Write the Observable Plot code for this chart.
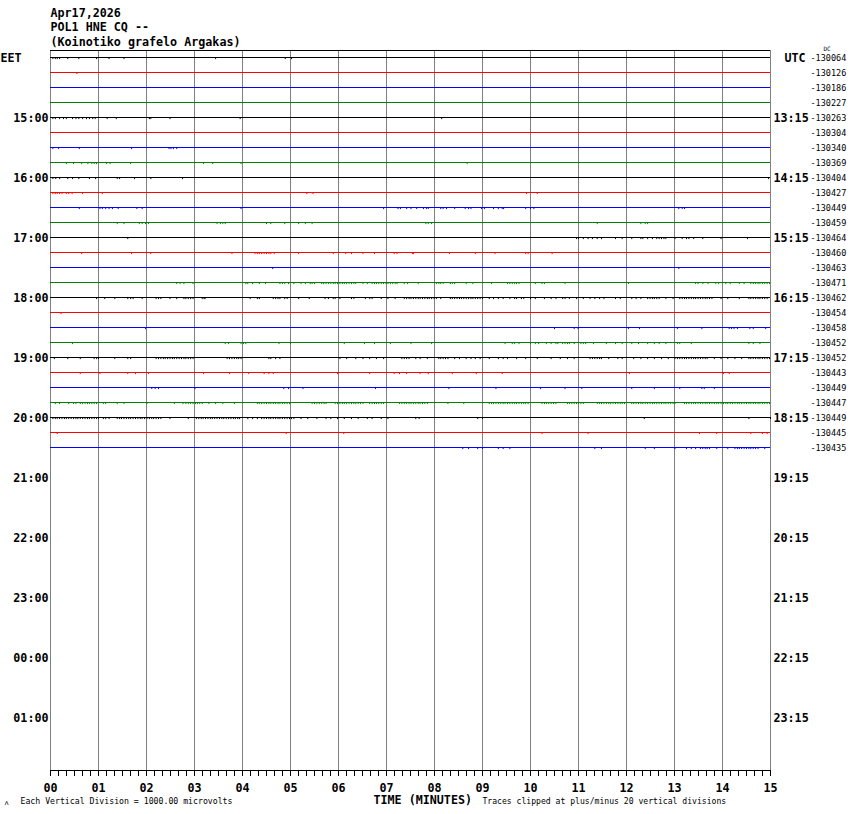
<!DOCTYPE html>
<html><head><meta charset="utf-8">
<script src="https://cdn.jsdelivr.net/npm/d3@7"></script>
<script src="https://cdn.jsdelivr.net/npm/@observablehq/plot@0.6"></script>
<style>body{margin:0;background:#fff;} svg{display:block}</style>
</head><body><div id="chart"></div>
<script>
const headerLines = ["Apr17,2026", "POL1 HNE CQ --", "(Koinotiko grafelo Argakas)"];
const traceColors = ["black", "red", "blue", "green"];
const dcValues = [-130064,-130126,-130186,-130227,-130263,-130304,-130340,-130369,-130404,-130427,-130449,-130459,-130464,-130460,-130463,-130471,-130462,-130454,-130458,-130452,-130452,-130443,-130449,-130447,-130449,-130445,-130435];
const eetLabels = ["15:00","16:00","17:00","18:00","19:00","20:00","21:00","22:00","23:00","00:00","01:00"];
const utcLabels = ["13:15","14:15","15:15","16:15","17:15","18:15","19:15","20:15","21:15","22:15","23:15"];
const minuteLabels = ["00","01","02","03","04","05","06","07","08","09","10","11","12","13","14","15"];
const captionLeft = "Each Vertical Division = 1000.00 microvolts";
const captionMid = "TIME (MINUTES)";
const captionRight = "Traces clipped at plus/minus 20 vertical divisions";

// spike positions (minutes within each 15-minute row)
const spikeMinutes = [
 [0.05,0.10,0.14,0.19,0.36,0.59,0.96,1.22,1.53,3.44,4.89,5.02],
 [0.55],
 [],
 [],
 [0.05,0.10,0.19,0.27,0.33,0.46,0.53,0.59,0.67,0.75,0.81,0.88,0.93,1.18,1.37,2.06,2.09,2.49,3.95,8.15],
 [],
 [0.05,0.17,0.60,1.69,2.47,2.51,2.56,2.63],
 [0.33,0.48,0.65,0.78,0.86,0.91,0.96,1.17,1.24,1.67,3.19,3.38,3.97,8.68],
 [0.05,0.11,0.19,0.36,0.46,0.59,0.81,0.94,1.39,1.44,1.75,2.09,2.75,14.96],
 [0.05,0.10,0.14,0.19,0.24,0.33,0.38,0.45,0.67,1.08,5.34,5.47,9.92,10.14],
 [0.60,1.03,1.08,1.15,1.22,1.29,1.41,1.80,1.91,3.97,6.94,7.24,7.29,7.42,7.51,7.63,7.77,7.83,7.87,8.13,8.18,8.25,8.42,8.64,8.71,8.76,8.98,9.04,9.23,9.33,9.41,9.44,9.90,10.0,10.07,13.09,13.16,13.21],
 [1.39,1.53,1.85,1.91,1.98,2.04,3.47,3.54,3.59,3.64,4.50,4.59,4.88,5.17,5.31,5.45,7.82,7.87,7.94,11.39,12.30,12.39,12.44],
 [1.61,10.96,11.0,11.10,11.20,11.29,11.39,11.48,11.77,11.91,12.11,12.30,12.34,12.44,12.54,12.63,12.68,12.73,12.78,12.82,13.01,13.16,13.25,13.30,13.40,13.59,13.97,14.52],
 [0.65,1.69,2.09,3.78,4.26,4.31,4.35,4.40,4.45,4.50,4.55,4.59,4.66,5.17,5.89,6.15,6.27,6.51,6.75,7.16,7.22,7.54,7.56,8.31,8.85,9.26,9.90,9.95,10.45],
 [4.63,13.09],
 [2.63,2.70,2.78,2.97,4.07,4.11,4.21,4.35,4.48,4.78,4.83,4.88,4.96,5.07,5.22,5.31,5.41,5.45,5.50,5.65,5.69,5.74,5.79,5.84,5.89,5.93,5.98,6.03,6.08,6.12,6.17,6.22,6.27,6.32,6.36,6.51,6.60,6.70,6.75,6.79,6.84,6.89,6.94,6.99,7.03,7.08,7.13,7.18,7.22,7.37,7.44,7.66,8.04,8.09,8.13,8.18,8.33,8.37,8.42,8.66,8.80,9.19,9.52,9.57,9.62,9.67,9.71,9.76,10.10,10.24,10.29,10.72,12.04,13.44,13.49,13.59,13.70,13.86,13.92,14.07,14.16,14.35,14.45,14.59,14.64,14.69,14.74,14.78,14.83,14.88,14.93,14.98],
 [0.96,1.13,1.34,1.61,1.67,1.72,1.91,2.20,2.25,2.30,2.49,2.63,2.78,2.82,2.87,2.92,2.97,3.16,3.20,3.22,4.16,4.31,4.35,4.64,4.69,4.74,4.78,4.88,4.93,5.17,5.39,5.72,5.79,5.89,5.93,6.03,6.27,6.32,6.56,6.65,6.70,6.89,7.03,7.18,7.37,7.42,7.47,7.51,7.56,7.61,7.66,7.70,7.75,7.80,7.85,7.89,7.94,7.99,8.04,8.13,8.33,8.37,8.42,8.47,8.52,8.56,8.61,8.66,8.71,8.76,8.80,8.85,8.90,8.95,9.00,9.14,9.23,9.33,9.43,9.57,9.67,9.71,9.81,9.86,10.0,10.10,10.29,10.43,10.53,10.67,10.72,10.81,10.96,11.10,11.24,11.34,11.44,11.53,11.77,11.87,12.11,12.20,12.30,12.44,12.49,12.54,12.58,12.63,12.68,12.82,12.97,13.11,13.16,13.21,13.25,13.30,13.35,13.40,13.44,13.49,13.54,13.59,13.64,13.68,13.73,13.78,13.97,14.11,14.35,14.55,14.59,14.64,14.69,14.74,14.78,14.83,14.88,14.93],
 [0.22],
 [1.98,10.50,10.91,10.99,12.04,12.27,13.06,13.57,14.14,14.19,14.24,14.31,14.57,14.64,14.90],
 [0.46,3.64,3.71,3.97,4.02,4.07,4.76,5.00,6.12,6.54,6.75,7.08,7.51,7.94,9.47,9.62,9.67,9.76,10.0,10.10,10.17,10.33,10.43,10.53,10.57,10.67,10.72,10.77,10.81,10.91,11.05,11.10,11.15,11.31,11.58,11.77,11.91,12.11,12.25,12.44,12.58,12.68,12.82,13.06,13.11,13.35,14.55,14.64,14.78],
 [0.08,0.36,0.62,0.91,0.96,1.0,1.34,1.61,1.67,2.20,2.25,2.30,2.35,2.39,2.44,2.49,2.54,2.58,2.63,2.68,2.73,2.78,2.82,2.87,2.92,2.97,3.68,3.73,3.78,3.83,3.88,3.92,3.97,4.55,4.59,4.69,4.78,6.03,6.17,6.36,6.51,6.65,6.79,6.94,7.32,7.37,7.42,7.47,7.61,7.70,7.85,8.09,8.13,8.18,8.23,8.28,8.42,8.52,8.66,8.76,8.85,8.95,9.14,9.33,9.43,9.52,9.71,9.90,10.14,10.43,10.62,10.77,10.91,11.24,11.29,11.34,11.39,11.44,11.48,11.63,11.82,11.91,12.15,12.30,12.44,12.58,12.73,12.87,13.01,13.06,13.11,13.16,13.21,13.25,13.30,13.35,13.40,13.44,13.49,13.54,13.59,13.64,13.68,13.83,13.97,14.11,14.26,14.40,14.55,14.59,14.64,14.69,14.74,14.78,14.83,14.88,14.93,14.98],
 [0.62,1.03,1.61,1.77,2.04,3.19,3.73,4.13,4.45,4.55,4.64,5.98,6.65,7.16,7.27,7.42,7.70,7.87,8.37,8.87,9.41,12.06,14.02,14.14],
 [2.11,2.18,2.25,3.01,4.86,4.96,5.26,6.77,8.30,9.28,10.21,10.72,11.07,12.11,12.58,13.11,13.57,13.62,13.83],
 [0.10,0.19,0.38,0.48,0.53,0.62,0.67,0.72,0.77,0.81,0.86,0.91,0.96,1.10,1.15,1.39,1.53,2.01,2.58,2.76,2.82,2.87,2.92,2.97,3.02,3.06,3.11,3.16,3.30,3.44,3.59,3.83,4.31,4.35,4.40,4.45,4.50,4.55,4.59,4.64,4.69,4.74,4.78,4.83,4.88,4.93,4.98,5.45,5.50,5.55,5.60,5.65,5.70,5.74,5.93,5.98,6.03,6.08,6.12,6.17,6.22,6.27,6.32,6.36,6.41,6.46,6.51,6.65,6.70,6.75,6.79,6.84,6.89,6.94,7.27,7.32,7.37,7.42,7.47,7.51,7.56,7.61,7.66,7.70,7.75,7.80,7.85,8.28,8.61,9.14,9.19,9.23,9.28,9.33,9.38,9.43,9.47,9.52,9.57,9.62,9.67,9.71,9.76,9.81,9.86,9.90,9.95,10.24,10.29,10.33,10.38,10.43,10.48,10.53,10.77,10.81,10.86,10.91,10.96,11.0,11.05,11.10,11.39,11.44,11.48,11.53,11.58,11.63,11.67,11.72,11.77,11.82,11.87,11.91,11.96,12.11,12.15,12.20,12.25,12.30,12.34,12.39,12.44,12.49,12.54,12.58,12.63,12.68,12.73,12.78,12.82,12.87,12.92,12.97,13.01,13.21,13.25,13.30,13.35,13.40,13.44,13.49,13.54,13.59,13.64,13.68,13.73,13.78,13.83,13.88,13.92,13.97,14.02,14.07,14.11,14.16,14.21,14.26,14.31,14.35,14.40,14.45,14.50,14.55,14.59,14.64,14.69,14.74,14.78,14.83,14.88,14.93,14.98],
 [0.05,0.10,0.14,0.19,0.24,0.29,0.33,0.38,0.43,0.48,0.53,0.57,0.62,0.67,0.72,0.77,0.81,0.86,0.91,0.96,1.0,1.10,1.15,1.22,1.39,1.44,1.48,1.53,1.58,1.63,1.67,1.72,1.77,1.82,1.87,1.91,1.96,2.01,2.06,2.11,2.15,2.20,2.25,2.30,2.49,2.87,3.04,3.09,3.14,3.18,3.23,3.28,3.33,3.37,3.42,3.47,3.52,3.57,3.61,3.66,3.71,3.76,3.81,3.85,3.90,3.94,4.11,4.21,4.31,4.40,4.45,4.50,4.55,4.59,4.64,4.69,4.74,4.78,4.83,4.88,4.93,4.98,5.02,5.07,5.22,5.36,5.55,5.74,5.84,5.98,6.12,6.27,6.41,6.60,6.70,6.89,7.03,7.61,7.68,8.90,9.00,12.37,14.55,15.0],
 [0.14,4.91,6.11,10.24,11.20,13.52,13.88,14.59,14.83,14.93],
 [8.59,8.71,8.90,9.00,9.33,9.43,9.57,11.34,11.48,12.39,12.58,13.01,13.25,13.35,13.44,13.54,13.59,13.64,13.68,13.73,13.88,14.11,14.26,14.31,14.35,14.40,14.45,14.50,14.55,14.59,14.64,14.69,14.74,14.88]
];

const rowsPerHour = 4;
const rowTop = -7 / 15, rowBottom = 713 / 15;
const spikeDepth = 0.14;

const rows = dcValues.map((dc, i) => ({row: i, dc: String(dc), color: traceColors[i % traceColors.length]}));
const spikes = spikeMinutes.flatMap((list, i) => list.map(t => ({row: i, t, color: traceColors[i % traceColors.length]})));
const hourRows = eetLabels.map((eet, i) => ({row: (i + 1) * rowsPerHour, eet, utc: utcLabels[i]}));
const majorTicks = minuteLabels.map(Number);
const minorTicks = d3.range(0, 15 * 6 + 1).map(k => k / 6);

const bold = {fontWeight: "bold", fontSize: 11.7};

const chart = Plot.plot({
  width: 850,
  height: 814,
  marginLeft: 50, marginRight: 80, marginTop: 50, marginBottom: 44,
  style: {fontFamily: "'DejaVu Sans Mono', monospace", background: "#fff", color: "#000"},
  x: {domain: [0, 15], range: [50, 770], axis: null},
  y: {domain: [rowTop, rowBottom], range: [50, 770], axis: null},
  marks: [
    Plot.ruleX(majorTicks, {stroke: "#808080", strokeWidth: 1}),
    Plot.ruleY(rows, {y: "row", x1: 0, x2: 15, stroke: "color", strokeWidth: 1}),
    Plot.ruleX(spikes, {x: "t", y1: "row", y2: d => d.row + spikeDepth, stroke: "color", strokeWidth: 1}),
    Plot.ruleY([rowTop], {stroke: "#000"}),
    Plot.ruleY([rowBottom], {stroke: "#000"}),
    Plot.axisX(minorTicks, {anchor: "bottom", label: null, tickSize: 6, tickFormat: () => "", stroke: "#000"}),
    Plot.axisX(majorTicks, {anchor: "bottom", label: null, tickSize: 6, tickPadding: 7, tickFormat: (d, i) => minuteLabels[i], ...bold, fill: "#000", stroke: "#000"}),
    // left / right hour labels
    Plot.text(hourRows, {x: 0, y: "row", text: "eet", dx: -2, dy: 1, textAnchor: "end", ...bold, fill: "#000"}),
    Plot.text(hourRows, {x: 15, y: "row", text: "utc", dx: 3, dy: 1, textAnchor: "start", ...bold, fill: "#000"}),
    Plot.text(["EET"], {x: 0, y: 0, text: d => d, dx: -50, dy: 1, textAnchor: "start", ...bold, fill: "#000"}),
    Plot.text(["UTC"], {x: 15, y: 0, text: d => d, dx: 14, dy: 1, textAnchor: "start", ...bold, fill: "#000"}),
    Plot.text(rows, {x: 15, y: "row", text: "dc", dx: 40, dy: 1, textAnchor: "start", fontSize: 8.5, fill: "#000"}),
    Plot.text(["DC"], {x: 15, y: 0, text: d => d, dx: 53, dy: -8, textAnchor: "start", fontSize: 6, fill: "#000"}),
    // header
    ...headerLines.map((line, i) => Plot.text([line], {frameAnchor: "top-left", text: d => d, dy: -37.5 + 14.5 * i, textAnchor: "start", lineAnchor: "middle", ...bold, fill: "#000"})),
    // captions
    Plot.text([captionLeft], {frameAnchor: "bottom-left", text: d => d, dx: -30, dy: 31, textAnchor: "start", lineAnchor: "middle", fontSize: 8.2, fill: "#000"}),
    Plot.text([captionMid], {frameAnchor: "bottom-left", text: d => d, dx: 323, dy: 30, textAnchor: "start", lineAnchor: "middle", ...bold, fill: "#000"}),
    Plot.text([captionRight], {frameAnchor: "bottom-left", text: d => d, dx: 432, dy: 31, textAnchor: "start", lineAnchor: "middle", fontSize: 8.1, fill: "#000"}),
    Plot.text(["\u028c"], {frameAnchor: "bottom-left", text: d => d, dx: -46, dy: 32, textAnchor: "start", lineAnchor: "middle", fontSize: 7, fill: "#000"})
  ]
});
document.getElementById("chart").append(chart);
</script>
</body></html>
